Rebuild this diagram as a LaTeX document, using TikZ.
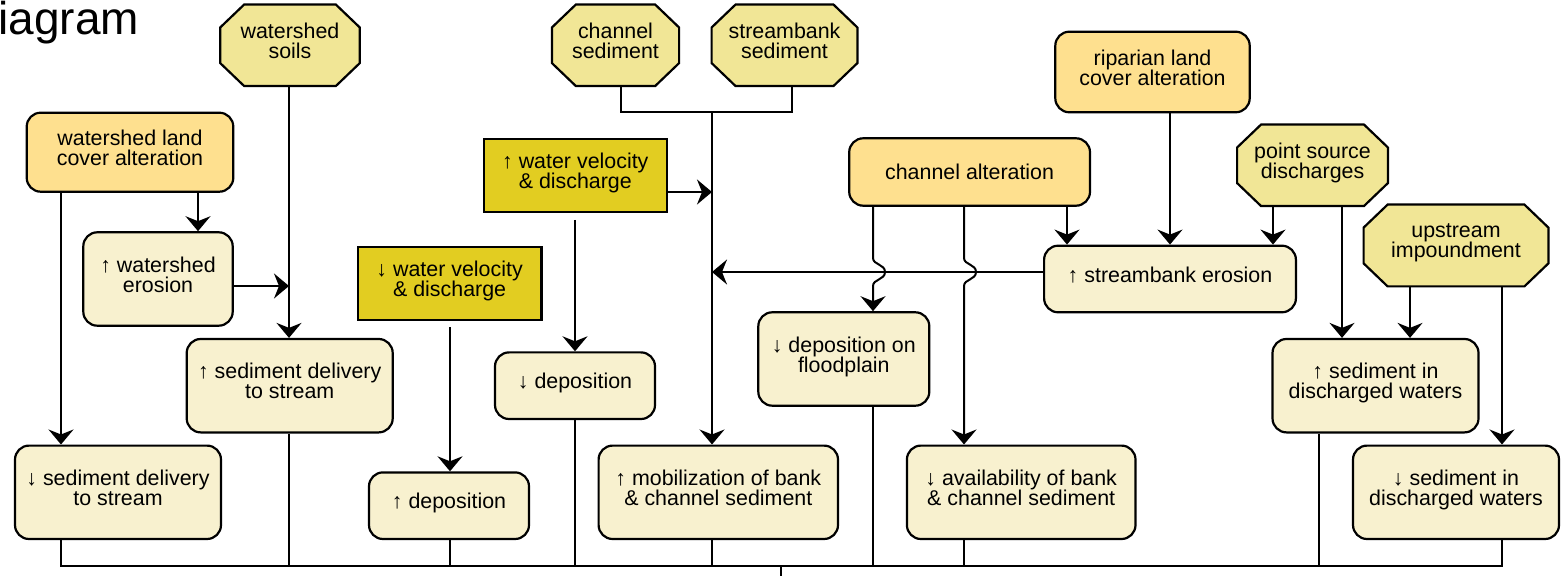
\documentclass[tikz,border=0pt]{standalone}
\usepackage{fontspec}
\setmainfont{Liberation Sans}
\usetikzlibrary{arrows.meta,calc,backgrounds}
\definecolor{khakic}{HTML}{F1E696}
\definecolor{orangec}{HTML}{FEE08F}
\definecolor{lightc}{HTML}{F8F1CF}
\definecolor{darkyc}{HTML}{E2CD21}
\tikzset{
  txt/.style={font=\fontsize{10.7pt}{10pt}\selectfont, align=center, inner sep=0pt, text depth=4.5pt},
  rbox/.style={txt, draw, line width=1.1pt, rounded corners=7pt, fill=lightc},
  obox/.style={rbox, fill=orangec},
  ybox/.style={txt, draw, line width=1.1pt, fill=darkyc},
  octa/.style={txt},
  octline/.style={draw, line width=1.1pt, fill=khakic, line join=miter},
  conn/.style={line width=1pt},
  arr/.style={conn, -{Stealth[length=7.5pt,width=12.5pt,inset=2.5pt]}}
}
\newcommand{\octshape}[1]{%
  \path[octline] ($(#1.north west)+(24,0)$) -- ($(#1.north east)+(-24,0)$)
    -- ($(#1.north east)+(0,23)$) -- ($(#1.south east)+(0,-23)$)
    -- ($(#1.south east)+(-24,0)$) -- ($(#1.south west)+(24,0)$)
    -- ($(#1.south west)+(0,-23)$) -- ($(#1.north west)+(0,23)$) -- cycle;}
\begin{document}
\begin{tikzpicture}[x=0.5pt,y=-0.5pt]
\useasboundingbox (0,0) rectangle (1566,576);
% title (cut off at left edge)
\node[font=\fontsize{23pt}{25pt}\selectfont, anchor=base west, inner sep=0pt] (title) at (-2,35) {iagram};
% source octagons
\node[octa, minimum width=69.4pt, minimum height=40.4pt] (ws) at (290,45.3) {watershed\\soils};
\node[octa, minimum width=63.2pt, minimum height=40.4pt] (cs) at (615.5,45.3) {channel\\sediment};
\node[octa, minimum width=72.5pt, minimum height=40.4pt] (sbs) at (784.5,45.3) {streambank\\sediment};
\node[octa, minimum width=75pt, minimum height=40.4pt] (ps) at (1312.5,165.3) {point source\\discharges};
\node[octa, minimum width=92pt, minimum height=40.5pt] (ui) at (1456,245.5) {upstream\\impoundment};
\begin{pgfonlayer}{background}
\octshape{ws}
\octshape{cs}
\octshape{sbs}
\octshape{ps}
\octshape{ui}
\end{pgfonlayer}
% alteration boxes
\node[obox, minimum width=103.3pt, minimum height=39.5pt] (wlca) at (130,152.2) {watershed land\\cover alteration};
\node[obox, minimum width=97.2pt, minimum height=40.3pt] (rip) at (1152.5,72) {riparian land\\cover alteration};
\node[obox, minimum width=120.4pt, minimum height=33.7pt, text depth=0pt] (ca) at (969.6,172) {channel alteration};
% water velocity boxes
\node[ybox, minimum width=91.7pt, minimum height=36.4pt] (wvu) at (575.3,175.3) {↑ water velocity\\\& discharge};
\node[ybox, minimum width=91.9pt, minimum height=36.5pt] (wvd) at (449.6,283.5) {↓ water velocity\\\& discharge};
% effect boxes
\node[rbox, minimum width=74.7pt, minimum height=46.7pt] (wse) at (158,279) {↑ watershed\\erosion};
\node[rbox, minimum width=103pt, minimum height=46.7pt] (sdu) at (289.7,385.7) {↑ sediment delivery\\to stream};
\node[rbox, minimum width=103pt, minimum height=46.7pt] (sdd) at (118,492.3) {↓ sediment delivery\\to stream};
\node[rbox, minimum width=80pt, minimum height=33.3pt] (depu) at (449,505.7) {↑ deposition};
\node[rbox, minimum width=80pt, minimum height=33.3pt] (depd) at (575,385.7) {↓ deposition};
\node[rbox, minimum width=119.7pt, minimum height=46.7pt] (mob) at (718.3,492.3) {↑ mobilization of bank\\\& channel sediment};
\node[rbox, minimum width=85.5pt, minimum height=46.7pt] (fp) at (843.8,359) {↓ deposition on\\floodplain};
\node[rbox, minimum width=114.3pt, minimum height=46.7pt] (av) at (1021.2,492.3) {↓ availability of bank\\\& channel sediment};
\node[rbox, minimum width=125.9pt, minimum height=33.3pt] (sbe) at (1170,279) {↑ streambank erosion};
\node[rbox, minimum width=103pt, minimum height=46.7pt] (sdwu) at (1375.5,385.7) {↑ sediment in\\discharged waters};
\node[rbox, minimum width=103pt, minimum height=46.7pt] (sdwd) at (1456,492.3) {↓ sediment in\\discharged waters};
% helper coordinates
\coordinate (b1) at (61,566);
\coordinate (b2) at (289,566);
\coordinate (b3) at (450,566);
\coordinate (b4) at (575,566);
\coordinate (b5) at (712,566);
\coordinate (b6) at (873,566);
\coordinate (b7) at (964,566);
\coordinate (b8) at (1319,566);
\coordinate (b9) at (1502,566);
\coordinate (bo) at (781,566);
\coordinate (be) at (781,578);
\coordinate (c198) at (198,0);
\coordinate (c621) at (621,0);
\coordinate (c792) at (792,0);
\coordinate (c1067) at (1067,0);
\coordinate (c1273) at (1273,0);
\coordinate (c1342) at (1342,0);
\coordinate (c1410) at (1410,0);
\coordinate (jn) at (712,112);
\coordinate (h1) at (289,286);
\coordinate (h2) at (712,192);
\coordinate (h3) at (712,272);
\coordinate (hopA) at (873,272);
\coordinate (hopB) at (964,272);
% connectors
\draw[arr] (wlca.south -| b1) -- (sdd.north -| b1);
\draw[arr] (wlca.south -| c198) -- (wse.north -| c198);
\draw[arr] (ws.south -| b2) -- (sdu.north -| b2);
\draw[arr] (wse.east |- h1) -- (h1);
\draw[arr, shorten <=3.2pt] (wvd.south -| b3) -- (depu.north -| b3);
\draw[arr, shorten <=3.5pt] (wvu.south -| b4) -- (depd.north -| b4);
\draw[conn] (cs.south -| c621) -- (c621 |- jn) -- (c792 |- jn) -- (sbs.south -| c792);
\draw[arr] (jn) -- (mob.north -| jn);
\draw[arr] (wvu.east |- h2) -- (h2);
\draw[arr] (sbe.west |- h3) -- (h3);
\draw[arr] (ca.south -| hopA) -- ($(hopA)+(0,-14)$)
  .. controls ($(hopA)+(0,-7)$) and ($(hopA)+(12,-8)$) .. ($(hopA)+(12,0)$)
  .. controls ($(hopA)+(12,8)$) and ($(hopA)+(0,7)$) .. ($(hopA)+(0,14)$)
  -- (fp.north -| hopA);
\draw[arr] (ca.south -| hopB) -- ($(hopB)+(0,-14)$)
  .. controls ($(hopB)+(0,-7)$) and ($(hopB)+(12,-8)$) .. ($(hopB)+(12,0)$)
  .. controls ($(hopB)+(12,8)$) and ($(hopB)+(0,7)$) .. ($(hopB)+(0,14)$)
  -- (av.north -| hopB);
\draw[arr] (ca.south -| c1067) -- (sbe.north -| c1067);
\draw[arr] (rip.south -| sbe.north) -- (sbe.north);
\draw[arr] (ps.south -| c1273) -- (sbe.north -| c1273);
\draw[arr] (ps.south -| c1342) -- (sdwu.north -| c1342);
\draw[arr] (ui.south -| c1410) -- (sdwu.north -| c1410);
\draw[arr] (ui.south -| b9) -- (sdwd.north -| b9);
% bottom bus
\draw[conn] (sdd.south -| b1) -- (b1) -- (b9) -- (sdwd.south -| b9);
\draw[conn] (sdu.south -| b2) -- (b2);
\draw[conn] (depu.south -| b3) -- (b3);
\draw[conn] (depd.south -| b4) -- (b4);
\draw[conn] (mob.south -| b5) -- (b5);
\draw[conn] (fp.south -| b6) -- (b6);
\draw[conn] (av.south -| b7) -- (b7);
\draw[conn] (sdwu.south -| b8) -- (b8);
\draw[conn] (bo) -- (be);
\end{tikzpicture}
\end{document}
